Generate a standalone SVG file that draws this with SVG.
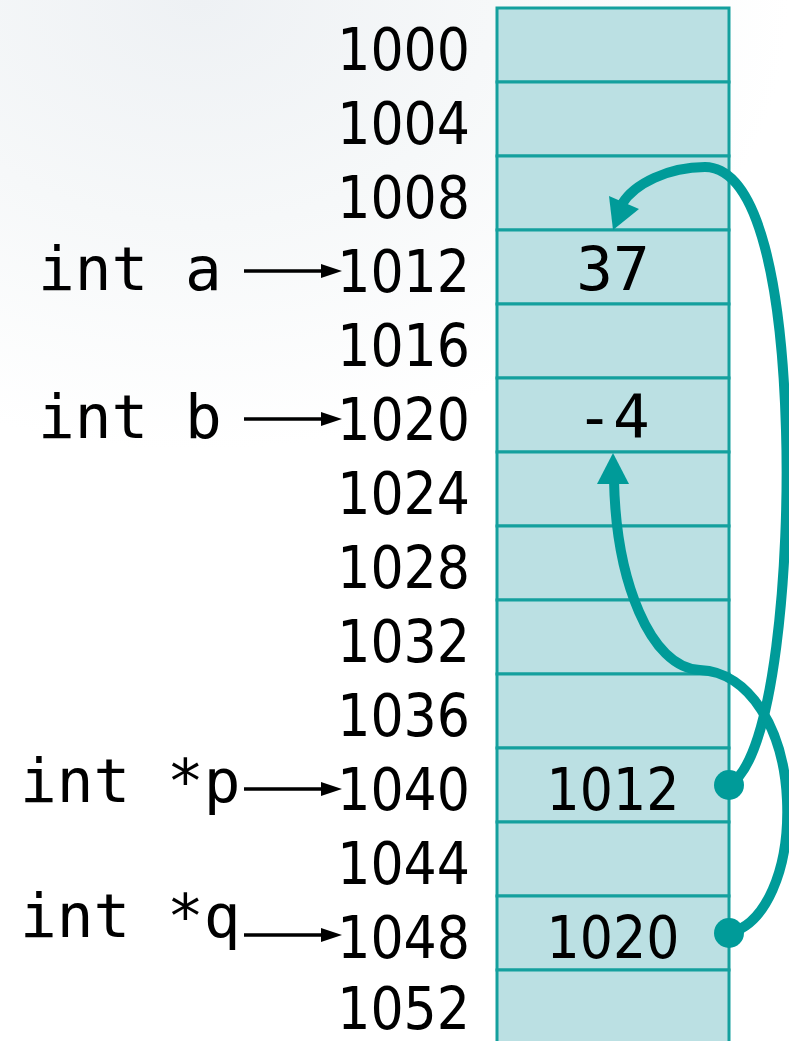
<svg xmlns="http://www.w3.org/2000/svg" width="789" height="1041" viewBox="0 0 789 1041">
  <defs>
    <radialGradient id="haze" cx="0.25" cy="0" r="0.75">
      <stop offset="0" stop-color="#eef1f4"/>
      <stop offset="0.5" stop-color="#f6f8f9"/>
      <stop offset="1" stop-color="#ffffff"/>
    </radialGradient>
    <style>
      .addr { font-family: "DejaVu Sans Condensed", "DejaVu Sans", sans-serif; font-size: 58px; fill: #000; text-anchor: end; }
      .val  { font-family: "DejaVu Sans Condensed", "DejaVu Sans", sans-serif; font-size: 58px; fill: #000; text-anchor: middle; }
      .mono { font-family: "DejaVu Sans Mono", monospace; font-size: 61px; fill: #000; }
      .monoval { font-family: "DejaVu Sans Mono", monospace; font-size: 61px; fill: #000; text-anchor: middle; }
      .cell { fill: #bbe0e3; stroke: #14a09e; stroke-width: 3; }
      .ptr  { fill: none; stroke: #009b99; stroke-width: 10; stroke-linecap: round; }
      .head { fill: #009b99; }
      .lbl  { stroke: #000; stroke-width: 3.5; fill: none; }
      .lblhead { fill: #000; }
    </style>
  </defs>

  <!-- backdrop -->
  <rect x="0" y="0" width="789" height="1041" fill="#ffffff"/>
  <rect x="0" y="0" width="789" height="600" fill="url(#haze)"/>

  <!-- memory column: one cell per 4-byte word -->
  <g id="memory">
    <rect class="cell" x="497" y="8" width="232" height="74"/>
    <rect class="cell" x="497" y="82" width="232" height="74"/>
    <rect class="cell" x="497" y="156" width="232" height="74"/>
    <rect class="cell" x="497" y="230" width="232" height="74"/>
    <rect class="cell" x="497" y="304" width="232" height="74"/>
    <rect class="cell" x="497" y="378" width="232" height="74"/>
    <rect class="cell" x="497" y="452" width="232" height="74"/>
    <rect class="cell" x="497" y="526" width="232" height="74"/>
    <rect class="cell" x="497" y="600" width="232" height="74"/>
    <rect class="cell" x="497" y="674" width="232" height="74"/>
    <rect class="cell" x="497" y="748" width="232" height="74"/>
    <rect class="cell" x="497" y="822" width="232" height="74"/>
    <rect class="cell" x="497" y="896" width="232" height="74"/>
    <rect class="cell" x="497" y="970" width="232" height="74"/>
  </g>

  <!-- addresses -->
  <g id="addresses">
    <text class="addr" x="470" y="70">1000</text>
    <text class="addr" x="470" y="144">1004</text>
    <text class="addr" x="470" y="218">1008</text>
    <text class="addr" x="470" y="292">1012</text>
    <text class="addr" x="470" y="366">1016</text>
    <text class="addr" x="470" y="440">1020</text>
    <text class="addr" x="470" y="514">1024</text>
    <text class="addr" x="470" y="588">1028</text>
    <text class="addr" x="470" y="662">1032</text>
    <text class="addr" x="470" y="736">1036</text>
    <text class="addr" x="470" y="810">1040</text>
    <text class="addr" x="470" y="884">1044</text>
    <text class="addr" x="470" y="958">1048</text>
    <text class="addr" x="470" y="1029">1052</text>
  </g>

  <!-- stored values -->
  <g id="values">
    <text class="monoval" x="613" y="290">37</text>
    <text class="monoval" x="613" y="438">-4</text>
    <text class="val" x="613" y="810">1012</text>
    <text class="val" x="613" y="958">1020</text>
  </g>

  <!-- variable names -->
  <g id="var-a">
    <text class="mono" x="38" y="290">int a</text>
    <line class="lbl" x1="244" y1="271" x2="326" y2="271"/>
    <polygon class="lblhead" points="321,264 342,271 321,278"/>
  </g>
  <g id="var-b">
    <text class="mono" x="38" y="438">int b</text>
    <line class="lbl" x1="244" y1="419" x2="326" y2="419"/>
    <polygon class="lblhead" points="321,412 342,419 321,426"/>
  </g>
  <g id="var-p">
    <text class="mono" x="20" y="802">int *p</text>
    <line class="lbl" x1="244" y1="789" x2="326" y2="789"/>
    <polygon class="lblhead" points="321,782 342,789 321,796"/>
  </g>
  <g id="var-q">
    <text class="mono" x="20" y="937">int *q</text>
    <line class="lbl" x1="244" y1="935" x2="326" y2="935"/>
    <polygon class="lblhead" points="321,928 342,935 321,942"/>
  </g>

  <!-- pointer connectors -->
  <g id="connectors">
    <!-- p -> a -->
    <path class="ptr" d="M729,785 C775,760 790,560 786,430 C782,290 760,168 705,167 C668,167 634,184 622,204"/>
    <polygon class="head" points="613,230 609,196 639,209"/>
    <circle class="head" cx="729" cy="785" r="15"/>
    <!-- q -> b -->
    <path class="ptr" d="M729,933 C765,925 790,870 787,800 C784,730 750,672 700,670 C650,668 616,580 614,480"/>
    <polygon class="head" points="613,453 597,484 629,484"/>
    <circle class="head" cx="729" cy="933" r="15"/>
  </g>
</svg>
